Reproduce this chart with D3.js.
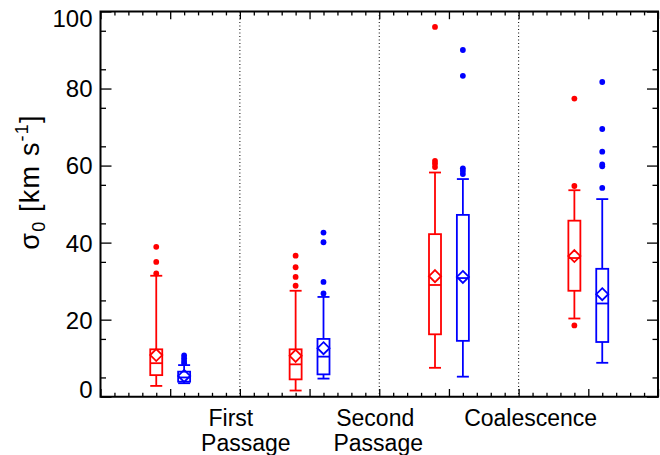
<!DOCTYPE html>
<html>
<head>
<meta charset="utf-8">
<script src="https://cdn.jsdelivr.net/npm/d3@7"></script>
<style>
  html, body { margin: 0; padding: 0; background: #fff; overflow: hidden; }
  svg { display: block; }
  svg text { font-family: "Liberation Sans", Arial, sans-serif; }
</style>
</head>
<body>
<svg id="canvas" width="660" height="455"></svg>
<script>
// category labels (one array per line), placed at x = 1, 2, 3
let xLabels = [['First', 'Passage'], ['Second', 'Passage'], ['Coalescence']]

// box stats per group: [lower whisker, q1, median, q3, upper whisker]
let redBoxes = [
    [2.8, 5.6, 8.7, 12.3, 31.4],
    [1.6, 4.5, 8.4, 12.3, 27.5],
    [7.5, 16.2, 29.0, 42.2, 58.2],
    [20.3, 27.5, 36.0, 45.7, 53.6]
]
let blueBoxes = [
    [3.5, 3.9, 5.0, 6.5, 8.2],
    [4.7, 5.8, 10.4, 15.0, 25.9],
    [5.2, 14.5, 30.8, 47.2, 56.5],
    [8.8, 14.2, 24.2, 33.2, 51.3]
]
let redMeans = [10.8, 10.6, 31.3, 36.5]
let blueMeans = [5.4, 12.6, 31.1, 26.6]
let redOutliers = [
    [38.9, 35.0, 32.0],
    [36.6, 33.6, 31.1, 28.8],
    [96.0, 61.2, 60.5, 59.6],
    [77.4, 54.7, 18.5]
]
let blueOutliers = [
    [10.7, 10.0, 9.3, 8.7],
    [42.6, 40.1, 29.8, 26.8],
    [90.0, 83.3, 59.3, 58.6, 57.8],
    [81.7, 69.5, 63.6, 60.3, 59.8, 54.2]
]
let yTicks = [0, 20, 40, 60, 80, 100]

let canvas = d3.select('#canvas')
let pLeft = 100.5, pRight = 658, pTop = 11.5, pBottom = 396.7

let x = d3.scaleLinear().domain([0, 4]).range([pLeft, pRight])
let y = d3.scaleLinear().domain([0, 100]).range([pBottom, pTop])

// dotted separators
canvas.selectAll('line.sep')
    .data([1, 2, 3])
    .enter()
    .append('line')
    .attr('x1', d => x(d)).attr('x2', d => x(d))
    .attr('y1', pTop).attr('y2', pBottom)
    .attr('stroke', '#000')
    .attr('stroke-width', 1)
    .attr('stroke-dasharray', '1,2.5')

let majorX = d3.range(0, 4.01, 0.5)
let minorX = d3.range(0, 4.01, 0.1).filter(v => Math.abs(v * 2 - Math.round(v * 2)) > 0.01)
let minorY = d3.range(5, 100, 10)

let styleAxis = (g) => {
    g.select('.domain').remove()
    g.selectAll('line').attr('stroke', '#000').attr('stroke-width', 1.3)
}

// bottom / top
canvas.append('g').attr('transform', `translate(0,${pBottom})`)
    .call(d3.axisBottom(x).tickValues(majorX).tickSize(-7.7).tickFormat('')).call(styleAxis)
canvas.append('g').attr('transform', `translate(0,${pBottom})`)
    .call(d3.axisBottom(x).tickValues(minorX).tickSize(-3.9).tickFormat('')).call(styleAxis)
canvas.append('g').attr('transform', `translate(0,${pTop})`)
    .call(d3.axisTop(x).tickValues(majorX).tickSize(-7.7).tickFormat('')).call(styleAxis)
canvas.append('g').attr('transform', `translate(0,${pTop})`)
    .call(d3.axisTop(x).tickValues(minorX).tickSize(-3.9).tickFormat('')).call(styleAxis)

// left / right
let yAxis = canvas.append('g').attr('transform', `translate(${pLeft},0)`)
    .call(d3.axisLeft(y).tickValues(yTicks).tickSize(-11).tickPadding(8))
    .call(styleAxis)
yAxis.selectAll('text')
    .attr('font-size', 24)
    .attr('font-family', '"Liberation Sans", Arial, sans-serif')
    .attr('fill', '#000')
    .attr('dy', d => d === 100 ? '0.63em' : d === 0 ? '0.02em' : '0.35em')
canvas.append('g').attr('transform', `translate(${pLeft},0)`)
    .call(d3.axisLeft(y).tickValues(minorY).tickSize(-5.5).tickFormat('')).call(styleAxis)
canvas.append('g').attr('transform', `translate(${pRight},0)`)
    .call(d3.axisRight(y).tickValues(yTicks).tickSize(-11).tickFormat('')).call(styleAxis)
canvas.append('g').attr('transform', `translate(${pRight},0)`)
    .call(d3.axisRight(y).tickValues(minorY).tickSize(-5.5).tickFormat('')).call(styleAxis)

// frame
canvas.append('path')
    .attr('d', `M${pLeft},${pTop}H${pRight}V${pBottom}H${pLeft}Z`)
    .attr('fill', 'none').attr('stroke', '#000').attr('stroke-width', 2)

// boxes
let boxW = 12, half = 6
let drawSeries = (boxes, means, outliers, offset, color) => {
    let g = canvas.append('g')
        .attr('stroke', color).attr('stroke-width', 1.8).attr('fill', 'none')
    boxes.forEach((b, i) => {
        let cx = x(i + offset)
        // whiskers
        g.append('line').attr('x1', cx).attr('x2', cx).attr('y1', y(b[0])).attr('y2', y(b[1]))
        g.append('line').attr('x1', cx).attr('x2', cx).attr('y1', y(b[3])).attr('y2', y(b[4]))
        g.append('line').attr('x1', cx - half).attr('x2', cx + half).attr('y1', y(b[0])).attr('y2', y(b[0]))
        g.append('line').attr('x1', cx - half).attr('x2', cx + half).attr('y1', y(b[4])).attr('y2', y(b[4]))
        // box + median
        g.append('rect').attr('x', cx - half).attr('y', y(b[3]))
            .attr('width', boxW).attr('height', y(b[1]) - y(b[3]))
        g.append('line').attr('x1', cx - half).attr('x2', cx + half).attr('y1', y(b[2])).attr('y2', y(b[2]))
        // mean diamond
        let my = y(means[i])
        g.append('path')
            .attr('d', `M${cx},${my - 6}L${cx + 6},${my}L${cx},${my + 6}L${cx - 6},${my}Z`)
        // outliers
        canvas.selectAll(null)
            .data(outliers[i])
            .enter()
            .append('circle')
            .attr('cx', cx)
            .attr('cy', d => y(d))
            .attr('r', 2.9)
            .attr('fill', color)
    })
}
drawSeries(redBoxes, redMeans, redOutliers, 0.4, '#ff0000')
drawSeries(blueBoxes, blueMeans, blueOutliers, 0.6, '#0000ff')

// category labels
let nudges = [[-9, 6], [-4, -1], [12]]
xLabels.forEach((lines, i) => {
    lines.forEach((t, j) => {
        canvas.append('text')
            .attr('x', x(i + 1) + nudges[i][j])
            .attr('y', 425.7 + j * 25)
            .attr('text-anchor', 'middle')
            .attr('font-size', 23)
            .text(t)
    })
})

// y title
let title = canvas.append('text')
    .attr('transform', 'translate(39,182) rotate(-90)')
    .attr('text-anchor', 'middle')
    .attr('font-size', 27)
    .attr('letter-spacing', 1.2)
title.append('tspan').text('σ')
title.append('tspan').attr('font-size', 18).attr('dy', 6).text('0')
title.append('tspan').attr('dy', -6).text(' [km s')
title.append('tspan').attr('font-size', 18).attr('dy', -11).text('-1')
title.append('tspan').attr('dy', 11).text(']')
</script>
</body>
</html>
